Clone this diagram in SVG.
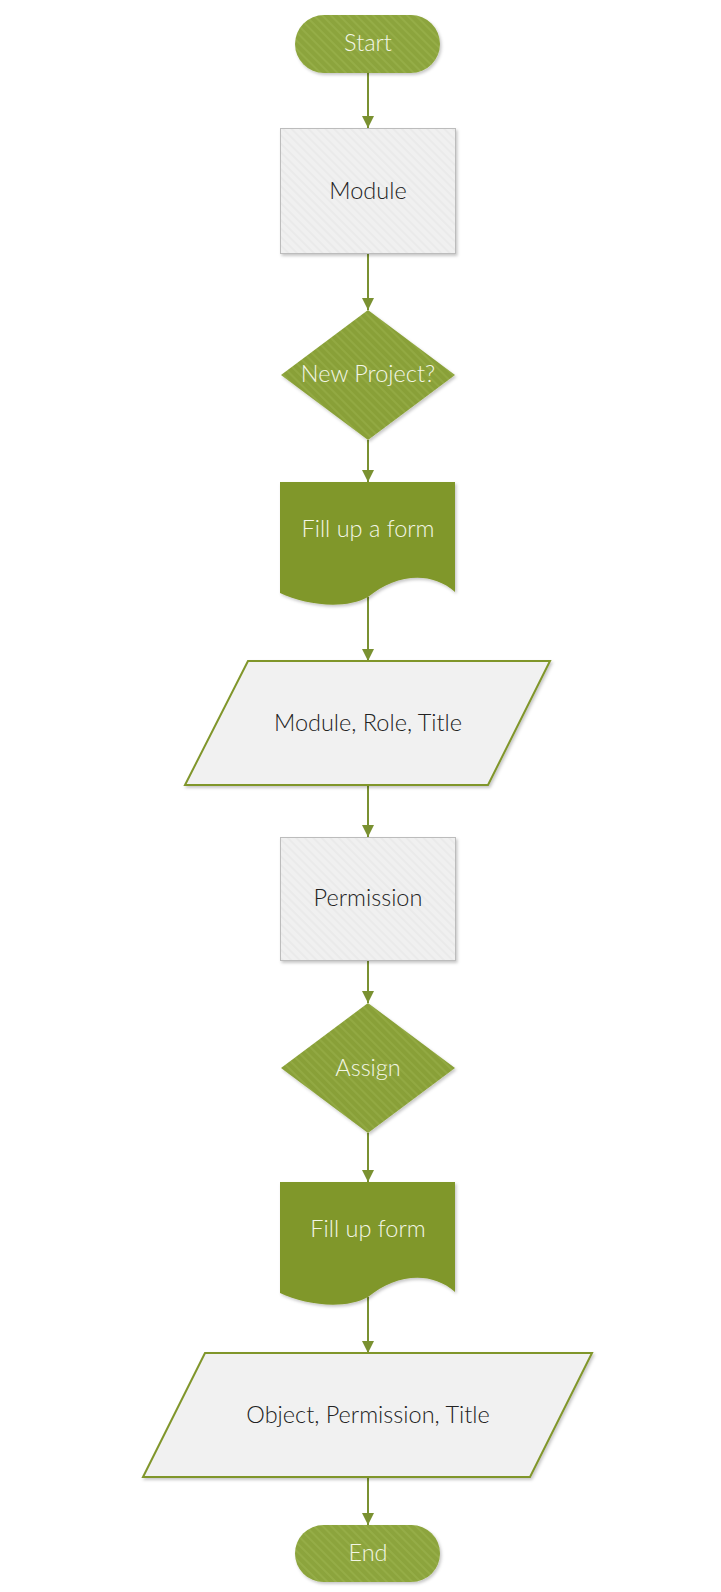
<svg xmlns="http://www.w3.org/2000/svg" width="721" height="1592" viewBox="0 0 721 1592">
<style>
  .lbl { font-family: "Lato", "Liberation Sans", sans-serif; font-weight: 300; font-size: 23.5px; text-anchor: middle; }
  .light { fill: #f3f6e6; }
  .dark { fill: #222222; }
  .conn { stroke: #7a9131; stroke-width: 2; fill: none; }
  .term { fill: url(#greenHatch); filter: url(#shadow); }
  .proc { fill: url(#grayHatch); stroke: #bcbcbc; stroke-width: 1; filter: url(#shadow); }
  .dec { fill: url(#greenHatch2); filter: url(#shadow); }
  .doc { fill: #80972b; filter: url(#shadow); }
  .io { fill: #f1f1f1; stroke: #80962c; stroke-width: 2; filter: url(#shadow); }
</style>
<defs>
  <pattern id="greenHatch" patternUnits="userSpaceOnUse" width="6" height="6" patternTransform="rotate(-45)">
    <rect width="6" height="6" fill="#8ca43c"/>
    <rect width="2" height="6" fill="#95ad47"/>
  </pattern>
  <pattern id="greenHatch2" patternUnits="userSpaceOnUse" width="6" height="6" patternTransform="rotate(-45)">
    <rect width="6" height="6" fill="#89a038"/>
    <rect width="2" height="6" fill="#92a943"/>
  </pattern>
  <pattern id="grayHatch" patternUnits="userSpaceOnUse" width="6" height="6" patternTransform="rotate(-45)">
    <rect width="6" height="6" fill="#f0f0f0"/>
    <rect width="2" height="6" fill="#eaeaea"/>
  </pattern>
  <filter id="shadow" x="-10%" y="-10%" width="125%" height="130%">
    <feDropShadow dx="1.5" dy="2" stdDeviation="1.5" flood-color="#000" flood-opacity="0.22"/>
  </filter>
  <marker id="arrow" markerUnits="userSpaceOnUse" markerWidth="12" markerHeight="12" refX="12" refY="6" orient="auto">
    <path d="M0,0 L12,6 L0,12 z" fill="#7a9131"/>
  </marker>
</defs>

<g id="connectors">
  <line class="conn" x1="368" y1="73" x2="368" y2="128" marker-end="url(#arrow)"/>
  <line class="conn" x1="368" y1="253" x2="368" y2="310" marker-end="url(#arrow)"/>
  <line class="conn" x1="368" y1="440" x2="368" y2="482" marker-end="url(#arrow)"/>
  <line class="conn" x1="368" y1="597" x2="368" y2="661" marker-end="url(#arrow)"/>
  <line class="conn" x1="368" y1="785" x2="368" y2="837" marker-end="url(#arrow)"/>
  <line class="conn" x1="368" y1="960" x2="368" y2="1003" marker-end="url(#arrow)"/>
  <line class="conn" x1="368" y1="1133" x2="368" y2="1182" marker-end="url(#arrow)"/>
  <line class="conn" x1="368" y1="1297" x2="368" y2="1353" marker-end="url(#arrow)"/>
  <line class="conn" x1="368" y1="1477" x2="368" y2="1525" marker-end="url(#arrow)"/>
</g>

<g id="start">
  <rect class="term" x="295" y="15" width="145" height="58" rx="29"/>
  <text class="lbl light" x="368" y="51">Start</text>
</g>

<g id="module">
  <rect class="proc" x="280.5" y="128.5" width="175" height="125"/>
  <text class="lbl dark" x="368" y="199">Module</text>
</g>

<g id="new-project">
  <polygon class="dec" points="368,310 455,375 368,440 281,375"/>
  <text class="lbl light" x="368" y="382">New Project?</text>
</g>

<g id="fill-up-a-form">
  <path class="doc" d="M280,482 H455 V592 C430,570 395,575 368,597 C345,610 305,605 280,593 Z"/>
  <text class="lbl light" x="368" y="537">Fill up a form</text>
</g>

<g id="module-role-title">
  <polygon class="io" points="248,661 550,661 488,785 185,785"/>
  <text class="lbl dark" x="368" y="731">Module, Role, Title</text>
</g>

<g id="permission">
  <rect class="proc" x="280.5" y="837.5" width="175" height="123"/>
  <text class="lbl dark" x="368" y="906">Permission</text>
</g>

<g id="assign">
  <polygon class="dec" points="368,1003 455,1068 368,1133 281,1068"/>
  <text class="lbl light" x="368" y="1076">Assign</text>
</g>

<g id="fill-up-form">
  <path class="doc" d="M280,1182 H455 V1292 C430,1270 395,1275 368,1297 C345,1310 305,1305 280,1293 Z"/>
  <text class="lbl light" x="368" y="1237">Fill up form</text>
</g>

<g id="object-permission-title">
  <polygon class="io" points="205,1353 592,1353 530,1477 143,1477"/>
  <text class="lbl dark" x="368" y="1423">Object, Permission, Title</text>
</g>

<g id="end">
  <rect class="term" x="295" y="1525" width="145" height="57" rx="28.5"/>
  <text class="lbl light" x="368" y="1561">End</text>
</g>
</svg>
